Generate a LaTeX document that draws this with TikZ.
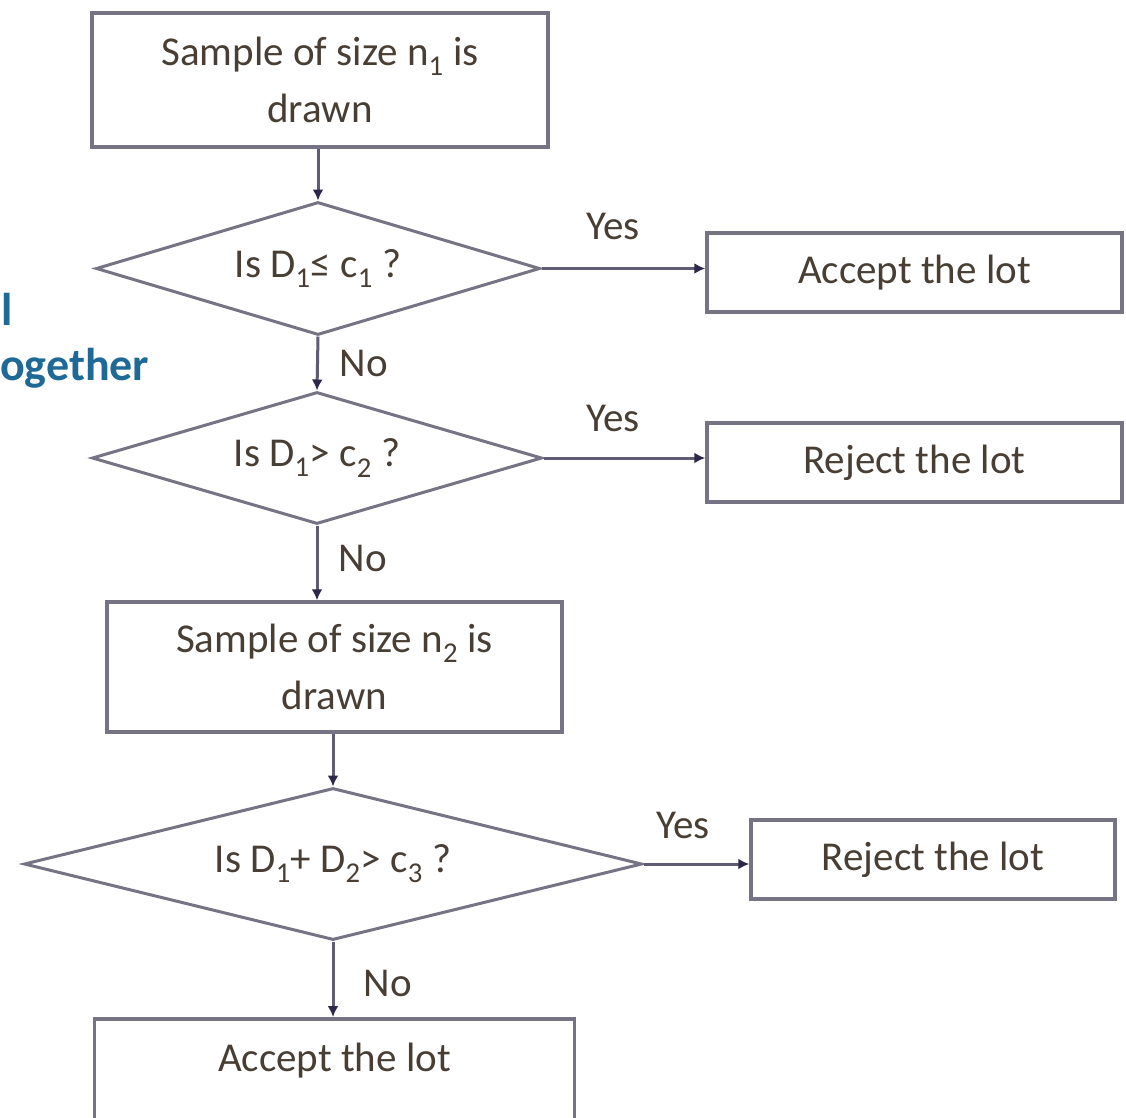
\documentclass[tikz,border=0pt]{standalone}
\usepackage{fontspec}
\setmainfont{Carlito}
\usetikzlibrary{shapes.geometric,arrows.meta}
\definecolor{txt}{RGB}{72,62,52}
\definecolor{boxgray}{RGB}{118,116,132}
\definecolor{linegray}{RGB}{95,92,115}
\definecolor{tipnavy}{RGB}{45,40,75}
\definecolor{blueish}{RGB}{30,105,150}
\newcommand\mainfs{\fontsize{41}{57}\selectfont}
\begin{document}
\begin{tikzpicture}[x=1pt,y=-1pt,
  boxnode/.style={draw=boxgray, line width=3.5pt, fill=white, align=center, inner sep=0pt, text=txt, font=\mainfs},
  dianode/.style={draw=boxgray, line width=3pt, shape=diamond, aspect=3.3, inner sep=0pt, fill=white, text=txt, font=\mainfs},
  conn/.style={draw=linegray, line width=3pt, -{Latex[length=11pt,width=11pt,color=tipnavy]}},
  lbl/.style={text=txt, font=\mainfs, inner sep=0pt},
  partial/.style={text=blueish, font=\fontsize{46}{55}\selectfont\bfseries, inner sep=0pt, anchor=base west}]
\useasboundingbox (0,0) rectangle (1126,1117);
\clip (0,0) rectangle (1126,1117);
\fill[white] (0,0) rectangle (1126,1117);

% partial text at the left edge
\node[partial] (p1) at (1,325) {l};
\node[partial] (p2) at (0,380) {ogether};

% nodes
\node[boxnode, minimum width=456pt, minimum height=134pt] (b1) at (320,80) {Sample of size n\textsubscript{1} is\\drawn};
\node[dianode, minimum width=444pt, minimum height=133pt] (d1) at (318,268.5) {Is D\textsubscript{1}≤ c\textsubscript{1} ?};
\node[boxnode, minimum width=415pt, minimum height=79pt] (a1) at (914.5,272.5) {Accept the lot};
\node[dianode, minimum width=450pt, minimum height=132pt] (d2) at (317,458) {Is D\textsubscript{1}> c\textsubscript{2} ?};
\node[boxnode, minimum width=415pt, minimum height=79pt] (r1) at (914.5,462.5) {Reject the lot};
\node[boxnode, minimum width=455pt, minimum height=130pt] (b2) at (334.5,667) {Sample of size n\textsubscript{2} is\\drawn};
\node[dianode, minimum width=618pt, minimum height=152pt] (d3) at (333,864) {Is D\textsubscript{1}+ D\textsubscript{2}> c\textsubscript{3} ?};
\node[boxnode, minimum width=364pt, minimum height=79pt] (r2) at (933,859.5) {Reject the lot};
\node[boxnode, minimum width=480pt, minimum height=134pt, anchor=north] (a2) at (334.5,1017) {Accept the lot\\\phantom{drawn}};

% connectors
\draw[conn] (d1.north |- b1.south) -- (d1.north);
\draw[conn] (d1.south) -- (d2.north);
\draw[conn] (d2.south) -- (d2.south |- b2.north);
\draw[conn] (d3.north |- b2.south) -- (d3.north);
\draw[conn] (d3.south) -- (d3.south |- a2.north);
\draw[conn] (d1.east) -- (d1.east -| a1.west);
\draw[conn] (d2.east) -- (d2.east -| r1.west);
\draw[conn] (d3.east) -- (d3.east -| r2.west);

% labels
\node[lbl] (y1) at (613,226) {Yes};
\node[lbl] (y2) at (613,418) {Yes};
\node[lbl] (y3) at (683,825) {Yes};
\node[lbl] (n1) at (364,363) {No};
\node[lbl] (n2) at (363,558) {No};
\node[lbl] (n3) at (388,983) {No};
\end{tikzpicture}
\end{document}
